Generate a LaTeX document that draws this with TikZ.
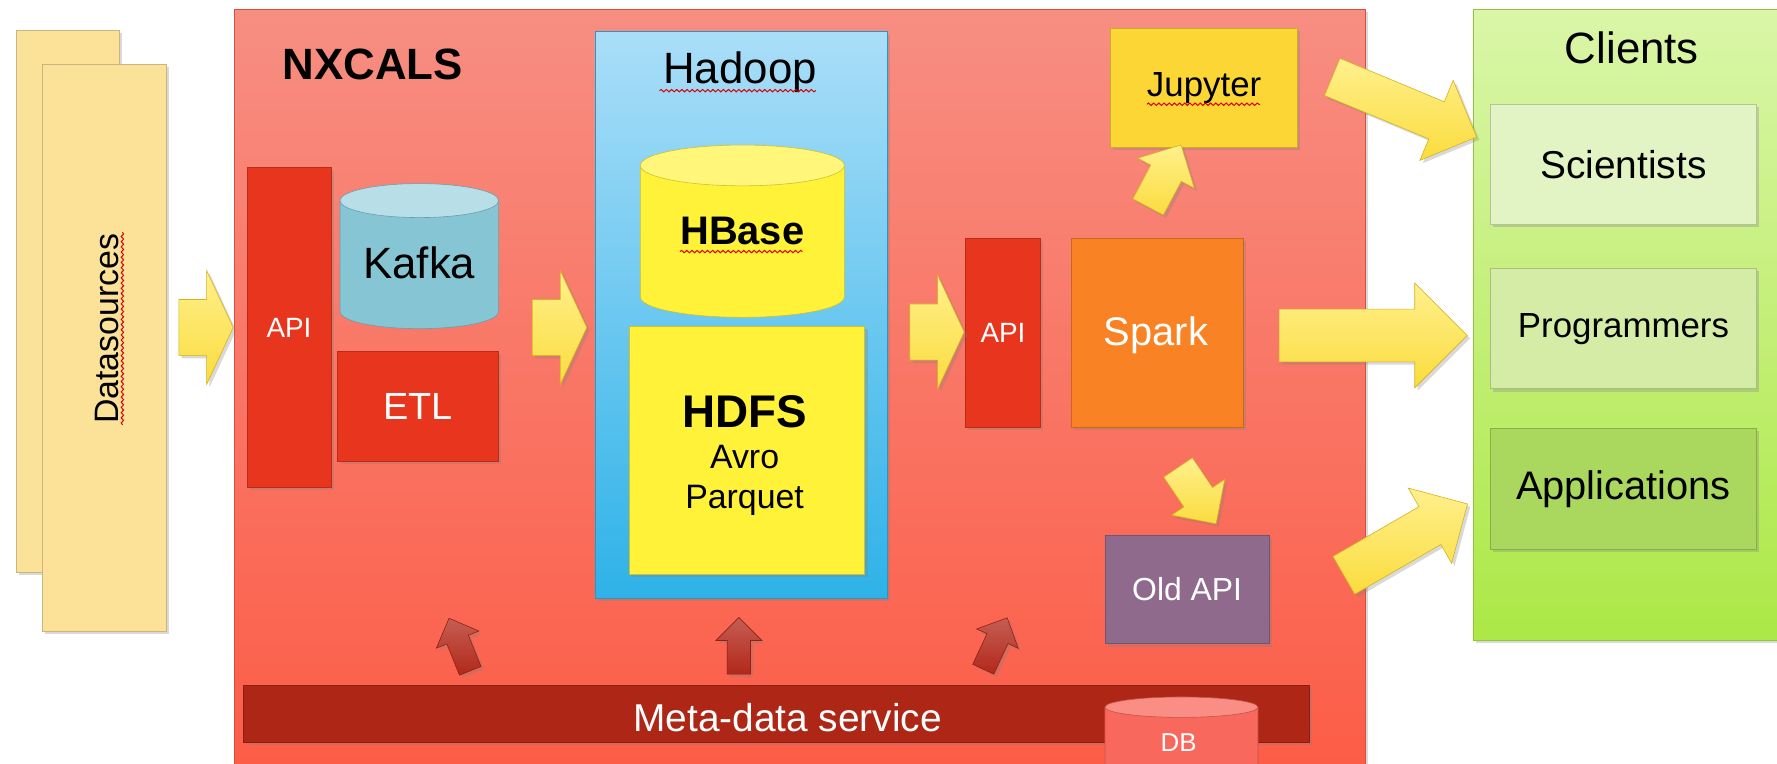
\documentclass[tikz,border=0pt]{standalone}
\usepackage{fontspec}
\setmainfont{Liberation Sans}
\usepackage{tikz}
\usetikzlibrary{positioning, calc, shapes.arrows, shadows, decorations.pathmorphing}

\definecolor{DsYellow}{RGB}{252,226,152}
\definecolor{NxTop}{RGB}{247,142,130}
\definecolor{NxBot}{RGB}{252,92,70}
\definecolor{ApiRed}{RGB}{232,54,30}
\definecolor{KafkaBody}{RGB}{134,198,212}
\definecolor{KafkaTop}{RGB}{184,222,232}
\definecolor{HdpTop}{RGB}{170,222,248}
\definecolor{HdpBot}{RGB}{46,178,232}
\definecolor{HbYellow}{RGB}{255,242,56}
\definecolor{HbTop}{RGB}{255,246,122}
\definecolor{SparkOrange}{RGB}{249,131,36}
\definecolor{JupGold}{RGB}{252,214,52}
\definecolor{OldPurple}{RGB}{143,106,141}
\definecolor{CliTop}{RGB}{218,246,168}
\definecolor{CliBot}{RGB}{172,232,70}
\definecolor{SciGreen}{RGB}{226,243,196}
\definecolor{ProgGreen}{RGB}{212,236,166}
\definecolor{AppGreen}{RGB}{170,216,94}
\definecolor{MetaRed}{RGB}{174,38,22}
\definecolor{DbRed}{RGB}{248,104,92}
\definecolor{DbTop}{RGB}{250,142,132}
\definecolor{ArrYellow}{RGB}{250,220,62}
\definecolor{ArrLight}{RGB}{255,240,140}
\definecolor{ArrDark}{RGB}{214,176,30}
\definecolor{UpRed}{RGB}{178,40,26}

\newcommand\fsz[1]{\fontsize{#1}{#1}\selectfont}
% drum: centre x, top-ellipse y, bottom-ellipse y, x radius, y radius, body, lid
\newcommand\drum[7]{%
  \filldraw[fill=#6, draw=#6!80!black, line width=0.3pt]
    (#1-#4,#2) -- (#1-#4,#3) arc[start angle=180, end angle=0, x radius=#4, y radius=#5]
    -- (#1+#4,#2) -- cycle;
  \filldraw[fill=#7, draw=#6!80!black, line width=0.3pt]
    (#1,#2) ellipse [x radius=#4, y radius=#5];
}

\tikzset{
  sz/.style 2 args={minimum width=#1*0.2mm, minimum height=#2*0.2mm},
  shade/.style={drop shadow={opacity=0.3, shadow xshift=0.5mm, shadow yshift=-0.5mm}},
  box/.style={rectangle, inner sep=0pt, draw=#1!80!black, line width=0.3pt, fill=#1, shade},
  panel/.style 2 args={rectangle, inner sep=0pt, draw=#2!85!black, line width=0.3pt,
    top color=#1, bottom color=#2, shade},
  yarrow/.style n args={4}{single arrow, inner xsep=0pt, inner ysep=#3/2*0.2mm,
    draw=ArrDark, line width=0.3pt, top color=ArrLight, bottom color=ArrYellow, shade,
    minimum height=#1*0.2mm, minimum width=#2*0.2mm,
    single arrow head extend=(#2-#3)/2*0.2mm, single arrow tip angle=#4},
  redarrow/.style={single arrow, inner xsep=0pt, inner ysep=10*0.2mm,
    draw=UpRed!80!black, line width=0.3pt, top color=UpRed!75!white, bottom color=UpRed,
    shade, minimum height=50*0.2mm, minimum width=40*0.2mm,
    single arrow head extend=10*0.2mm, single arrow tip angle=90},
  lbl/.style={inner sep=0pt},
  squig/.style={draw=red!85!black, line width=0.5pt, decorate,
    decoration={snake, amplitude=0.6pt, segment length=2.6pt}}
}

\begin{document}
\begin{tikzpicture}[x=0.2mm, y=-0.2mm]
  \useasboundingbox (0,0) rectangle (1568,674);
  \clip (0,0) rectangle (1568,674);

  % data sources
  \node[box=DsYellow, sz={91}{478}] (ds2) at (59.5,266) {};
  \node[box=DsYellow, sz={110}{500}] (ds1) at (92,307) {};
  \node[lbl, rotate=90, font=\fsz{17}] (dslbl) at (94,290) {Datasources};
  \draw[squig] (108,205) -- (108,375);

  % NXCALS
  \node[panel={NxTop}{NxBot}, sz={998}{680}] (nxcals) at (706,348) {};
  \node[lbl, font=\bfseries\fsz{22}] (nxlbl) at (329,57) {NXCALS};
  \node[box=ApiRed, sz={74}{282}, text=white, font=\fsz{14}] (api1) at (255,289) {API};
  \drum{370}{177}{275}{70}{15}{KafkaBody}{KafkaTop}
  \node[lbl, font=\fsz{22}] (kafka) at (370,232) {Kafka};
  \node[box=ApiRed, sz={142}{97}, text=white, font=\fsz{19}] (etl) at (369,358.5) {ETL};

  % Hadoop
  \node[panel={HdpTop}{HdpBot}, sz={258}{500}] (hadoop) at (654,278) {};
  \node[lbl, font=\fsz{22}] (hdplbl) at (653,64) {Hadoop};
  \draw[squig] (582,80) -- (720,80);
  \drum{655}{146}{262}{90}{18}{HbYellow}{HbTop}
  \node[lbl, font=\bfseries\fsz{20}] (hbase) at (655,204) {HBase};
  \draw[squig] (600,222) -- (708,222);
  \node[box=HbYellow, sz={208}{219}] (hdfs) at (659,397.5) {};
  \node[lbl, align=center, font=\fontsize{17}{20.5}\selectfont]
    (hdfslbl) at (657,402) {{\bfseries\fontsize{23}{24}\selectfont HDFS}\\Avro\\Parquet};

  \node[box=ApiRed, sz={66}{167}, text=white, font=\fsz{14}] (api2) at (885,293.5) {API};
  \node[box=SparkOrange, sz={152}{167}] (spark) at (1021,293.5) {};
  \node[lbl, text=white, font=\fsz{20}] (sparklbl) at (1020,296) {Spark};
  \node[box=JupGold, sz={165}{105}, font=\fsz{17.5}] (jupyter) at (1062.5,77.5) {Jupyter};
  \draw[squig] (1012,92) -- (1112,92);
  \node[box=OldPurple, sz={145}{96}, text=white, font=\fsz{16}] (oldapi) at (1047.5,520) {Old API};

  % meta-data
  \node[box=MetaRed, sz={940}{50}] (meta) at (685,630) {};
  \node[lbl, text=white, font=\fsz{19.5}] (metalbl) at (695,633) {Meta-data service};
  \drum{1042.5}{624}{700}{67.5}{9}{DbRed}{DbTop}
  \node[lbl, text=white, font=\fsz{13}] (db) at (1040,655) {DB};

  % clients
  \node[panel={CliTop}{CliBot}, sz={280}{557}] (clients) at (1440,286.5) {};
  \node[lbl, font=\fsz{22}] (clilbl) at (1440,42) {Clients};
  \node[box=SciGreen, sz={235}{106}, font=\fsz{19.5}] (sci) at (1432.5,145) {Scientists};
  \node[box=ProgGreen, sz={235}{106}, font=\fsz{17.5}] (prog) at (1432.5,290) {Programmers};
  \node[box=AppGreen, sz={235}{107}, font=\fsz{20}] (app) at (1432.5,431.5) {Applications};

  % data flow
  \node[yarrow={48}{100}{49}{130}] (a1) at (176,289) {};
  \node[yarrow={48}{100}{49}{130}] (a2) at (488,289) {};
  \node[yarrow={48}{100}{49}{130}] (a3) at (821,293) {};
  \node[yarrow={62}{56}{30}{90}, rotate=62] (s1) at (1024,162) {};
  \node[yarrow={60}{56}{30}{90}, rotate=-56] (s2) at (1052,431) {};
  \node[yarrow={138}{76}{35}{90}, rotate=-22.6] (c1) at (1231,91) {};
  \node[yarrow={166}{92}{46}{90}] (c2) at (1200,296) {};
  \node[yarrow={126}{76}{38}{90}, rotate=30] (c3) at (1232,481) {};

  % meta-data feeds
  \node[redarrow, rotate=112] (r1) at (407.5,573.5) {};
  \node[redarrow, rotate=90] (r2) at (652,575) {};
  \node[redarrow, rotate=65] (r3) at (876,572.5) {};
\end{tikzpicture}
\end{document}
